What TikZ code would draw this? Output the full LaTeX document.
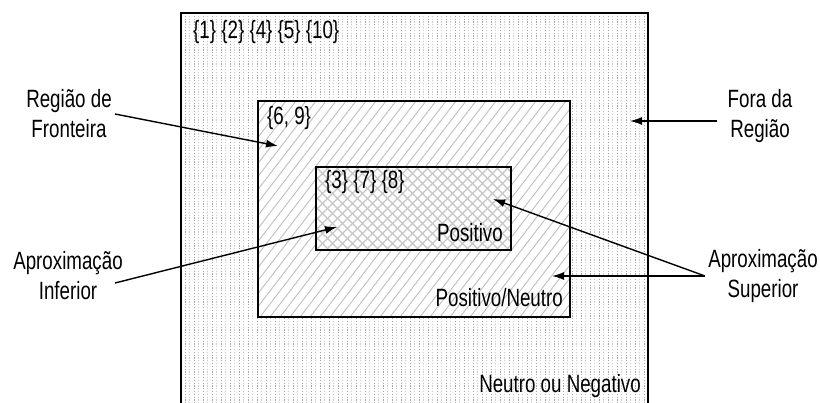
\documentclass[tikz,border=0pt]{standalone}
\usepackage{fontspec}
\setmainfont{Liberation Sans}[FakeStretch=0.75]
\usetikzlibrary{arrows.meta}
\begin{document}
\begin{tikzpicture}[x=1pt,y=-1pt,
  lbl/.style={inner sep=0pt, font=\fontsize{25}{30}\selectfont},
  box/.style={draw=black, line width=1.4pt},
  conn/.style={line width=1.4pt, -{Latex[length=12pt,width=8pt]}},
  dotA/.style={gray!70, line width=0.8pt, dash pattern=on 1.2pt off 1.6pt},
  dotB/.style={gray!40, line width=0.7pt, dash pattern=on 1.2pt off 1.6pt},
  hatch/.style={gray!50, line width=0.9pt},
  cross/.style={gray!45, line width=1.1pt}]
\useasboundingbox (0,0) rectangle (820,403);
\clip (0,0) rectangle (820,403);
% outer region: dotted texture
\begin{scope}
  \clip (181,13) rectangle (648,410);
  \foreach \x in {185,194,...,648} \draw[dotA] (\x,13) -- (\x,410);
  \foreach \x in {189.5,198.5,...,648} \draw[dotB] (\x,13) -- (\x,410);
\end{scope}
% middle region: diagonal hatch
\fill[white] (258,101) rectangle (570,317);
\begin{scope}
  \clip (258,101) rectangle (570,317);
  \foreach \x in {80,90,...,580} \draw[hatch] (\x,317) -- ++(166,-216);
\end{scope}
% inner region: cross hatch
\fill[white] (316,167) rectangle (511,250);
\begin{scope}
  \clip (316,167) rectangle (511,250);
  \foreach \x in {226,236,...,520} {
    \draw[cross] (\x,250) -- ++(83,-83);
    \draw[cross] (\x,167) -- ++(83,83);
  }
\end{scope}
% borders
\draw[box] (181,13) rectangle (648,420);
\draw[box] (258,101) rectangle (570,317);
\draw[box] (316,167) rectangle (511,250);
% texts
\node[lbl, anchor=base west] (s1) at (193,39) {\{1\} \{2\} \{4\} \{5\} \{10\}};
\node[lbl, anchor=base west] (s2) at (267,125) {\{6, 9\}};
\node[lbl, anchor=base west] (s3) at (325,189) {\{3\} \{7\} \{8\}};
\node[lbl, anchor=base east] (pos) at (503,242) {Positivo};
\node[lbl, anchor=base east] (posneu) at (563,307) {Positivo/Neutro};
\node[lbl, anchor=base east] (neu) at (641,393) {Neutro ou Negativo};
\node[lbl, align=center, anchor=north] (front) at (69,89) {Região de\\Fronteira};
\node[lbl, align=center, anchor=north] (fora) at (760,89) {Fora da\\Região};
\node[lbl, align=center, anchor=north] (inf) at (68,251) {Aproximação\\Inferior};
\node[lbl, align=center, anchor=north] (sup) at (763,249) {Aproximação\\Superior};
% connector ends
\coordinate (fs) at (115,114); \coordinate (fe) at (278,146);
\coordinate (os) at (717,121); \coordinate (oe) at (630,121);
\coordinate (is) at (115,283); \coordinate (ie) at (337,227);
\coordinate (ss) at (705,276); \coordinate (se1) at (552,276); \coordinate (se2) at (493,199);
\draw[conn] (fs) -- (fe);
\draw[conn] (os) -- (oe);
\draw[conn] (is) -- (ie);
\draw[conn] (ss) -- (se1);
\draw[conn] (ss) -- (se2);
\end{tikzpicture}
\end{document}
